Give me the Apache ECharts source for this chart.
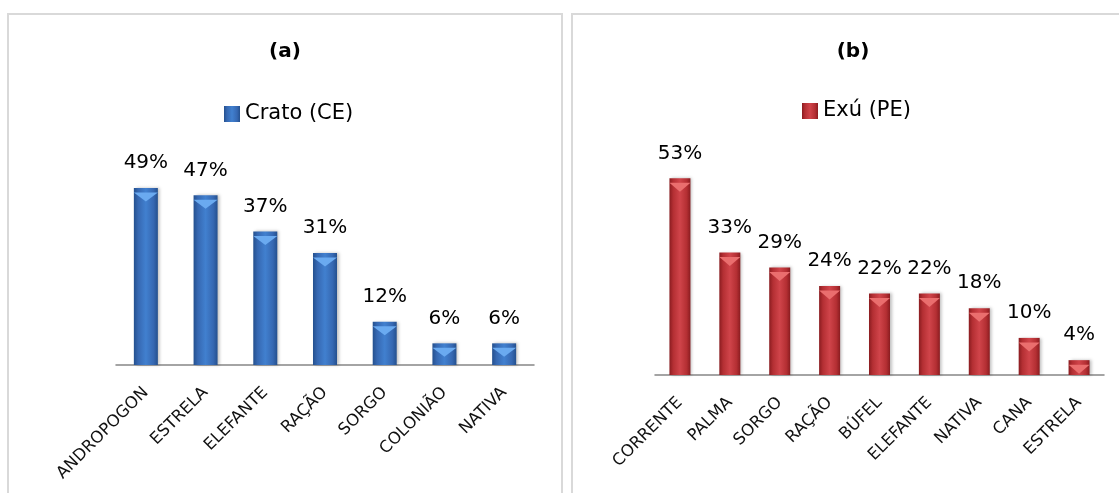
<!DOCTYPE html>
<html>
<head>
<meta charset="utf-8">
<script src="https://cdn.jsdelivr.net/npm/echarts@6/dist/echarts.min.js"></script>
<style>
html,body{margin:0;padding:0;background:#fff;}
#chart{width:1119px;height:493px;}
</style>
</head>
<body>
<div id="chart"></div>
<script>
// ---- data ----
const titleA = '(a)';
const titleB = '(b)';
const seriesNameA = 'Crato (CE)';
const seriesNameB = 'Exú (PE)';
const categoriesA = ['ANDROPOGON', 'ESTRELA', 'ELEFANTE', 'RAÇÃO', 'SORGO', 'COLONIÃO', 'NATIVA'];
const valuesA = [49, 47, 37, 31, 12, 6, 6];
const categoriesB = ['CORRENTE', 'PALMA', 'SORGO', 'RAÇÃO', 'BÚFEL', 'ELEFANTE', 'NATIVA', 'CANA', 'ESTRELA'];
const valuesB = [53, 33, 29, 24, 22, 22, 18, 10, 4];

const FONT = 'DejaVu Sans';

function barGrad(edge, mid, center) {
  return {
    type: 'linear', x: 0, y: 0, x2: 1, y2: 0,
    colorStops: [
      { offset: 0, color: edge },
      { offset: 0.18, color: mid },
      { offset: 0.5, color: center },
      { offset: 0.82, color: mid },
      { offset: 1, color: edge }
    ]
  };
}
const blue = barGrad('#24508e', '#3668b2', '#4180cf');
const red = barGrad('#8a1c20', '#b42f33', '#d0444a');

const chart = echarts.init(document.getElementById('chart'), null, { renderer: 'canvas' });

function makeAxis(gridIndex, cats) {
  return {
    type: 'category', gridIndex: gridIndex, data: cats,
    axisLine: { show: true, lineStyle: { color: '#868686', width: 1.5 } },
    axisTick: { show: false },
    axisLabel: {
      rotate: 45, margin: 25, interval: 0,
      fontFamily: FONT, fontSize: 16.5, color: '#111'
    }
  };
}
function makeValAxis(gridIndex) {
  return {
    type: 'value', gridIndex: gridIndex, min: 0, max: 60, interval: 10,
    show: false, splitLine: { show: false }
  };
}
function barSeries(name, idx, vals, color, width) {
  return {
    name: name, type: 'bar', xAxisIndex: idx, yAxisIndex: idx,
    data: vals, barWidth: width,
    itemStyle: {
      color: color,
      shadowColor: 'rgba(0,0,0,0.25)', shadowBlur: 3, shadowOffsetX: 2, shadowOffsetY: 0
    },
    label: {
      show: true, position: 'top', distance: 15,
      formatter: '{c}%', fontFamily: FONT, fontSize: 20, color: '#000'
    },
    z: 2
  };
}
function capSeries(idx, vals, color, width) {
  return {
    name: 'cap' + idx, type: 'pictorialBar', xAxisIndex: idx, yAxisIndex: idx,
    data: vals, symbol: 'triangle', symbolRotate: 180,
    symbolPosition: 'end', symbolSize: [width, 9], symbolOffset: [0, 4.5],
    itemStyle: { color: color }, silent: true, z: 3, label: { show: false }
  };
}

const option = {
  backgroundColor: '#ffffff',
  animation: false,
  title: [
    { text: titleA, left: 285, top: 42, textAlign: 'center', padding: 0,
      textStyle: { fontFamily: FONT, fontWeight: 'bold', fontSize: 20, color: '#000' } },
    { text: titleB, left: 853, top: 42, textAlign: 'center', padding: 0,
      textStyle: { fontFamily: FONT, fontWeight: 'bold', fontSize: 20, color: '#000' } }
  ],
  legend: [
    { data: [{ name: seriesNameA, icon: 'rect' }], left: 224, top: 103, padding: 0, itemWidth: 16, itemHeight: 16, itemGap: 6,
      textStyle: { fontFamily: FONT, fontSize: 21, color: '#000', lineHeight: 22 } },
    { data: [{ name: seriesNameB, icon: 'rect' }], left: 802, top: 100, padding: 0, itemWidth: 16, itemHeight: 16, itemGap: 6,
      textStyle: { fontFamily: FONT, fontSize: 21, color: '#000', lineHeight: 22 } }
  ],
  grid: [
    { left: 116, right: 585, top: 148.4, bottom: 128 },
    { left: 655, right: 15, top: 152.4, bottom: 118 }
  ],
  xAxis: [makeAxis(0, categoriesA), makeAxis(1, categoriesB)],
  yAxis: [makeValAxis(0), makeValAxis(1)],
  series: [
    barSeries(seriesNameA, 0, valuesA, blue, 24),
    capSeries(0, valuesA, '#6aaaf0', 24),
    barSeries(seriesNameB, 1, valuesB, red, 21),
    capSeries(1, valuesB, '#ea6e6e', 21)
  ],
  graphic: [
    { type: 'rect', shape: { x: 8, y: 14, width: 554, height: 520 },
      style: { fill: 'none', stroke: '#d9d9d9', lineWidth: 2 }, silent: true },
    { type: 'rect', shape: { x: 572, y: 14, width: 560, height: 520 },
      style: { fill: 'none', stroke: '#d9d9d9', lineWidth: 2 }, silent: true }
  ]
};
chart.setOption(option);
</script>
</body>
</html>
